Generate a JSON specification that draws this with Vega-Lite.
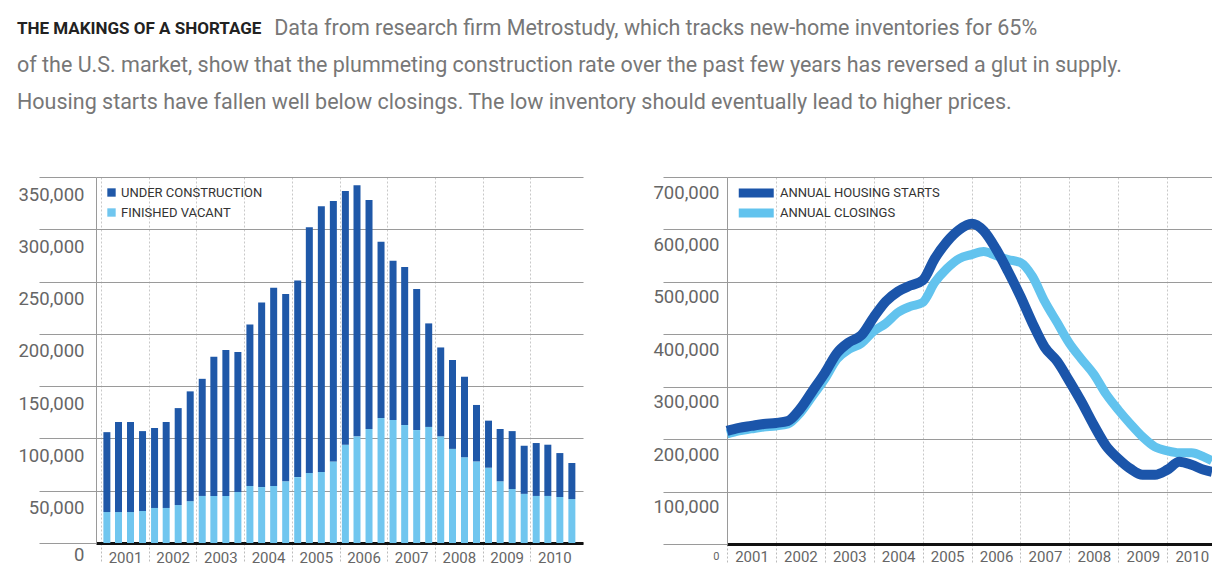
{
  "$schema": "https://vega.github.io/schema/vega-lite/v6.json",
  "background": "white",
  "padding": {"left": 16, "top": 17, "right": 0, "bottom": 0},
  "spacing": 69,
  "resolve": {"scale": {"color": "independent"}, "legend": {"color": "independent"}},
  "title": {
    "text": "THE MAKINGS OF A SHORTAGE",
    "subtitle": [
      "\u200b\u2003\u2003\u2003\u2003\u2003\u2003\u2003\u2003\u2003\u2003\u2003\u00a0\u00a0\u00a0Data from research firm Metrostudy, which tracks new-home inventories for 65%",
      "of the U.S. market, show that the plummeting construction rate over the past few years has reversed a glut in supply.",
      "Housing starts have fallen well below closings. The low inventory should eventually lead to higher prices."
    ],
    "anchor": "start",
    "frame": "bounds",
    "font": "Roboto",
    "fontSize": 17,
    "fontWeight": "bold",
    "color": "#222222",
    "subtitleFont": "Roboto",
    "subtitleFontSize": 21.5,
    "subtitleColor": "#777777",
    "subtitleLineHeight": 37,
    "subtitlePadding": -20,
    "offset": 60,
    "dx": -1
  },
  "datasets": {
    "bars": [
      {"d": "2001-02-15T00:00:00", "s": "FINISHED VACANT", "v": 29600}, {"d": "2001-02-15T00:00:00", "s": "UNDER CONSTRUCTION", "v": 76400},
      {"d": "2001-05-15T00:00:00", "s": "FINISHED VACANT", "v": 29600}, {"d": "2001-05-15T00:00:00", "s": "UNDER CONSTRUCTION", "v": 86100},
      {"d": "2001-08-15T00:00:00", "s": "FINISHED VACANT", "v": 29600}, {"d": "2001-08-15T00:00:00", "s": "UNDER CONSTRUCTION", "v": 86100},
      {"d": "2001-11-15T00:00:00", "s": "FINISHED VACANT", "v": 30600}, {"d": "2001-11-15T00:00:00", "s": "UNDER CONSTRUCTION", "v": 76400},
      {"d": "2002-02-15T00:00:00", "s": "FINISHED VACANT", "v": 33500}, {"d": "2002-02-15T00:00:00", "s": "UNDER CONSTRUCTION", "v": 76500},
      {"d": "2002-05-15T00:00:00", "s": "FINISHED VACANT", "v": 33500}, {"d": "2002-05-15T00:00:00", "s": "UNDER CONSTRUCTION", "v": 82200},
      {"d": "2002-08-15T00:00:00", "s": "FINISHED VACANT", "v": 36300}, {"d": "2002-08-15T00:00:00", "s": "UNDER CONSTRUCTION", "v": 92700},
      {"d": "2002-11-15T00:00:00", "s": "FINISHED VACANT", "v": 40000}, {"d": "2002-11-15T00:00:00", "s": "UNDER CONSTRUCTION", "v": 105000},
      {"d": "2003-02-15T00:00:00", "s": "FINISHED VACANT", "v": 45000}, {"d": "2003-02-15T00:00:00", "s": "UNDER CONSTRUCTION", "v": 112000},
      {"d": "2003-05-15T00:00:00", "s": "FINISHED VACANT", "v": 45000}, {"d": "2003-05-15T00:00:00", "s": "UNDER CONSTRUCTION", "v": 133000},
      {"d": "2003-08-15T00:00:00", "s": "FINISHED VACANT", "v": 45000}, {"d": "2003-08-15T00:00:00", "s": "UNDER CONSTRUCTION", "v": 139500},
      {"d": "2003-11-15T00:00:00", "s": "FINISHED VACANT", "v": 48800}, {"d": "2003-11-15T00:00:00", "s": "UNDER CONSTRUCTION", "v": 133800},
      {"d": "2004-02-15T00:00:00", "s": "FINISHED VACANT", "v": 54500}, {"d": "2004-02-15T00:00:00", "s": "UNDER CONSTRUCTION", "v": 154500},
      {"d": "2004-05-15T00:00:00", "s": "FINISHED VACANT", "v": 53500}, {"d": "2004-05-15T00:00:00", "s": "UNDER CONSTRUCTION", "v": 176500},
      {"d": "2004-08-15T00:00:00", "s": "FINISHED VACANT", "v": 54500}, {"d": "2004-08-15T00:00:00", "s": "UNDER CONSTRUCTION", "v": 189500},
      {"d": "2004-11-15T00:00:00", "s": "FINISHED VACANT", "v": 59000}, {"d": "2004-11-15T00:00:00", "s": "UNDER CONSTRUCTION", "v": 179000},
      {"d": "2005-02-15T00:00:00", "s": "FINISHED VACANT", "v": 63000}, {"d": "2005-02-15T00:00:00", "s": "UNDER CONSTRUCTION", "v": 188000},
      {"d": "2005-05-15T00:00:00", "s": "FINISHED VACANT", "v": 67000}, {"d": "2005-05-15T00:00:00", "s": "UNDER CONSTRUCTION", "v": 235000},
      {"d": "2005-08-15T00:00:00", "s": "FINISHED VACANT", "v": 68000}, {"d": "2005-08-15T00:00:00", "s": "UNDER CONSTRUCTION", "v": 254000},
      {"d": "2005-11-15T00:00:00", "s": "FINISHED VACANT", "v": 78000}, {"d": "2005-11-15T00:00:00", "s": "UNDER CONSTRUCTION", "v": 249000},
      {"d": "2006-02-15T00:00:00", "s": "FINISHED VACANT", "v": 94000}, {"d": "2006-02-15T00:00:00", "s": "UNDER CONSTRUCTION", "v": 242500},
      {"d": "2006-05-15T00:00:00", "s": "FINISHED VACANT", "v": 102000}, {"d": "2006-05-15T00:00:00", "s": "UNDER CONSTRUCTION", "v": 240000},
      {"d": "2006-08-15T00:00:00", "s": "FINISHED VACANT", "v": 109000}, {"d": "2006-08-15T00:00:00", "s": "UNDER CONSTRUCTION", "v": 219000},
      {"d": "2006-11-15T00:00:00", "s": "FINISHED VACANT", "v": 119500}, {"d": "2006-11-15T00:00:00", "s": "UNDER CONSTRUCTION", "v": 168500},
      {"d": "2007-02-15T00:00:00", "s": "FINISHED VACANT", "v": 117600}, {"d": "2007-02-15T00:00:00", "s": "UNDER CONSTRUCTION", "v": 152400},
      {"d": "2007-05-15T00:00:00", "s": "FINISHED VACANT", "v": 112800}, {"d": "2007-05-15T00:00:00", "s": "UNDER CONSTRUCTION", "v": 151200},
      {"d": "2007-08-15T00:00:00", "s": "FINISHED VACANT", "v": 108000}, {"d": "2007-08-15T00:00:00", "s": "UNDER CONSTRUCTION", "v": 135000},
      {"d": "2007-11-15T00:00:00", "s": "FINISHED VACANT", "v": 111000}, {"d": "2007-11-15T00:00:00", "s": "UNDER CONSTRUCTION", "v": 99000},
      {"d": "2008-02-15T00:00:00", "s": "FINISHED VACANT", "v": 102000}, {"d": "2008-02-15T00:00:00", "s": "UNDER CONSTRUCTION", "v": 85000},
      {"d": "2008-05-15T00:00:00", "s": "FINISHED VACANT", "v": 90000}, {"d": "2008-05-15T00:00:00", "s": "UNDER CONSTRUCTION", "v": 85000},
      {"d": "2008-08-15T00:00:00", "s": "FINISHED VACANT", "v": 82000}, {"d": "2008-08-15T00:00:00", "s": "UNDER CONSTRUCTION", "v": 77000},
      {"d": "2008-11-15T00:00:00", "s": "FINISHED VACANT", "v": 78000}, {"d": "2008-11-15T00:00:00", "s": "UNDER CONSTRUCTION", "v": 54000},
      {"d": "2009-02-15T00:00:00", "s": "FINISHED VACANT", "v": 72000}, {"d": "2009-02-15T00:00:00", "s": "UNDER CONSTRUCTION", "v": 45000},
      {"d": "2009-05-15T00:00:00", "s": "FINISHED VACANT", "v": 59000}, {"d": "2009-05-15T00:00:00", "s": "UNDER CONSTRUCTION", "v": 50000},
      {"d": "2009-08-15T00:00:00", "s": "FINISHED VACANT", "v": 51600}, {"d": "2009-08-15T00:00:00", "s": "UNDER CONSTRUCTION", "v": 55400},
      {"d": "2009-11-15T00:00:00", "s": "FINISHED VACANT", "v": 47000}, {"d": "2009-11-15T00:00:00", "s": "UNDER CONSTRUCTION", "v": 46000},
      {"d": "2010-02-15T00:00:00", "s": "FINISHED VACANT", "v": 45000}, {"d": "2010-02-15T00:00:00", "s": "UNDER CONSTRUCTION", "v": 50600},
      {"d": "2010-05-15T00:00:00", "s": "FINISHED VACANT", "v": 45000}, {"d": "2010-05-15T00:00:00", "s": "UNDER CONSTRUCTION", "v": 49000},
      {"d": "2010-08-15T00:00:00", "s": "FINISHED VACANT", "v": 44000}, {"d": "2010-08-15T00:00:00", "s": "UNDER CONSTRUCTION", "v": 42000},
      {"d": "2010-11-15T00:00:00", "s": "FINISHED VACANT", "v": 42000}, {"d": "2010-11-15T00:00:00", "s": "UNDER CONSTRUCTION", "v": 34500}
    ],
    "lines": [
      {"d": "2001-01-01T00:00:00", "s": "ANNUAL HOUSING STARTS", "v": 215700}, {"d": "2001-01-01T00:00:00", "s": "ANNUAL CLOSINGS", "v": 210000},
      {"d": "2001-04-01T00:00:00", "s": "ANNUAL HOUSING STARTS", "v": 221400}, {"d": "2001-04-01T00:00:00", "s": "ANNUAL CLOSINGS", "v": 215700},
      {"d": "2001-07-01T00:00:00", "s": "ANNUAL HOUSING STARTS", "v": 225200}, {"d": "2001-07-01T00:00:00", "s": "ANNUAL CLOSINGS", "v": 219500},
      {"d": "2001-10-01T00:00:00", "s": "ANNUAL HOUSING STARTS", "v": 229000}, {"d": "2001-10-01T00:00:00", "s": "ANNUAL CLOSINGS", "v": 223300},
      {"d": "2002-01-01T00:00:00", "s": "ANNUAL HOUSING STARTS", "v": 230900}, {"d": "2002-01-01T00:00:00", "s": "ANNUAL CLOSINGS", "v": 225200},
      {"d": "2002-04-01T00:00:00", "s": "ANNUAL HOUSING STARTS", "v": 234700}, {"d": "2002-04-01T00:00:00", "s": "ANNUAL CLOSINGS", "v": 229000},
      {"d": "2002-07-01T00:00:00", "s": "ANNUAL HOUSING STARTS", "v": 257500}, {"d": "2002-07-01T00:00:00", "s": "ANNUAL CLOSINGS", "v": 249900},
      {"d": "2002-10-01T00:00:00", "s": "ANNUAL HOUSING STARTS", "v": 291700}, {"d": "2002-10-01T00:00:00", "s": "ANNUAL CLOSINGS", "v": 282200},
      {"d": "2003-01-01T00:00:00", "s": "ANNUAL HOUSING STARTS", "v": 325900}, {"d": "2003-01-01T00:00:00", "s": "ANNUAL CLOSINGS", "v": 314500},
      {"d": "2003-04-01T00:00:00", "s": "ANNUAL HOUSING STARTS", "v": 363900}, {"d": "2003-04-01T00:00:00", "s": "ANNUAL CLOSINGS", "v": 352500},
      {"d": "2003-07-01T00:00:00", "s": "ANNUAL HOUSING STARTS", "v": 384800}, {"d": "2003-07-01T00:00:00", "s": "ANNUAL CLOSINGS", "v": 371500},
      {"d": "2003-10-01T00:00:00", "s": "ANNUAL HOUSING STARTS", "v": 398000}, {"d": "2003-10-01T00:00:00", "s": "ANNUAL CLOSINGS", "v": 382900},
      {"d": "2004-01-01T00:00:00", "s": "ANNUAL HOUSING STARTS", "v": 432300}, {"d": "2004-01-01T00:00:00", "s": "ANNUAL CLOSINGS", "v": 405700},
      {"d": "2004-04-01T00:00:00", "s": "ANNUAL HOUSING STARTS", "v": 462700}, {"d": "2004-04-01T00:00:00", "s": "ANNUAL CLOSINGS", "v": 420900},
      {"d": "2004-07-01T00:00:00", "s": "ANNUAL HOUSING STARTS", "v": 481700}, {"d": "2004-07-01T00:00:00", "s": "ANNUAL CLOSINGS", "v": 441800},
      {"d": "2004-10-01T00:00:00", "s": "ANNUAL HOUSING STARTS", "v": 493000}, {"d": "2004-10-01T00:00:00", "s": "ANNUAL CLOSINGS", "v": 453200},
      {"d": "2005-01-01T00:00:00", "s": "ANNUAL HOUSING STARTS", "v": 502600}, {"d": "2005-01-01T00:00:00", "s": "ANNUAL CLOSINGS", "v": 460800},
      {"d": "2005-04-01T00:00:00", "s": "ANNUAL HOUSING STARTS", "v": 544400}, {"d": "2005-04-01T00:00:00", "s": "ANNUAL CLOSINGS", "v": 498800},
      {"d": "2005-07-01T00:00:00", "s": "ANNUAL HOUSING STARTS", "v": 576700}, {"d": "2005-07-01T00:00:00", "s": "ANNUAL CLOSINGS", "v": 525400},
      {"d": "2005-10-01T00:00:00", "s": "ANNUAL HOUSING STARTS", "v": 599500}, {"d": "2005-10-01T00:00:00", "s": "ANNUAL CLOSINGS", "v": 544400},
      {"d": "2006-01-01T00:00:00", "s": "ANNUAL HOUSING STARTS", "v": 610900}, {"d": "2006-01-01T00:00:00", "s": "ANNUAL CLOSINGS", "v": 552000},
      {"d": "2006-04-01T00:00:00", "s": "ANNUAL HOUSING STARTS", "v": 597600}, {"d": "2006-04-01T00:00:00", "s": "ANNUAL CLOSINGS", "v": 557700},
      {"d": "2006-07-01T00:00:00", "s": "ANNUAL HOUSING STARTS", "v": 563400}, {"d": "2006-07-01T00:00:00", "s": "ANNUAL CLOSINGS", "v": 550100},
      {"d": "2006-10-01T00:00:00", "s": "ANNUAL HOUSING STARTS", "v": 519700}, {"d": "2006-10-01T00:00:00", "s": "ANNUAL CLOSINGS", "v": 542500},
      {"d": "2007-01-01T00:00:00", "s": "ANNUAL HOUSING STARTS", "v": 472200}, {"d": "2007-01-01T00:00:00", "s": "ANNUAL CLOSINGS", "v": 536800},
      {"d": "2007-04-01T00:00:00", "s": "ANNUAL HOUSING STARTS", "v": 420900}, {"d": "2007-04-01T00:00:00", "s": "ANNUAL CLOSINGS", "v": 510200},
      {"d": "2007-07-01T00:00:00", "s": "ANNUAL HOUSING STARTS", "v": 375300}, {"d": "2007-07-01T00:00:00", "s": "ANNUAL CLOSINGS", "v": 462700},
      {"d": "2007-10-01T00:00:00", "s": "ANNUAL HOUSING STARTS", "v": 348700}, {"d": "2007-10-01T00:00:00", "s": "ANNUAL CLOSINGS", "v": 422800},
      {"d": "2008-01-01T00:00:00", "s": "ANNUAL HOUSING STARTS", "v": 310700}, {"d": "2008-01-01T00:00:00", "s": "ANNUAL CLOSINGS", "v": 382900},
      {"d": "2008-04-01T00:00:00", "s": "ANNUAL HOUSING STARTS", "v": 270800}, {"d": "2008-04-01T00:00:00", "s": "ANNUAL CLOSINGS", "v": 352500},
      {"d": "2008-07-01T00:00:00", "s": "ANNUAL HOUSING STARTS", "v": 227000}, {"d": "2008-07-01T00:00:00", "s": "ANNUAL CLOSINGS", "v": 324000},
      {"d": "2008-10-01T00:00:00", "s": "ANNUAL HOUSING STARTS", "v": 187200}, {"d": "2008-10-01T00:00:00", "s": "ANNUAL CLOSINGS", "v": 286000},
      {"d": "2009-01-01T00:00:00", "s": "ANNUAL HOUSING STARTS", "v": 162500}, {"d": "2009-01-01T00:00:00", "s": "ANNUAL CLOSINGS", "v": 255600},
      {"d": "2009-04-01T00:00:00", "s": "ANNUAL HOUSING STARTS", "v": 143500}, {"d": "2009-04-01T00:00:00", "s": "ANNUAL CLOSINGS", "v": 229000},
      {"d": "2009-07-01T00:00:00", "s": "ANNUAL HOUSING STARTS", "v": 132000}, {"d": "2009-07-01T00:00:00", "s": "ANNUAL CLOSINGS", "v": 204300},
      {"d": "2009-10-01T00:00:00", "s": "ANNUAL HOUSING STARTS", "v": 132000}, {"d": "2009-10-01T00:00:00", "s": "ANNUAL CLOSINGS", "v": 185300},
      {"d": "2010-01-01T00:00:00", "s": "ANNUAL HOUSING STARTS", "v": 141600}, {"d": "2010-01-01T00:00:00", "s": "ANNUAL CLOSINGS", "v": 177700},
      {"d": "2010-04-01T00:00:00", "s": "ANNUAL HOUSING STARTS", "v": 156800}, {"d": "2010-04-01T00:00:00", "s": "ANNUAL CLOSINGS", "v": 173900},
      {"d": "2010-07-01T00:00:00", "s": "ANNUAL HOUSING STARTS", "v": 151100}, {"d": "2010-07-01T00:00:00", "s": "ANNUAL CLOSINGS", "v": 173900},
      {"d": "2010-10-01T00:00:00", "s": "ANNUAL HOUSING STARTS", "v": 141600}, {"d": "2010-10-01T00:00:00", "s": "ANNUAL CLOSINGS", "v": 166300},
      {"d": "2010-12-01T00:00:00", "s": "ANNUAL HOUSING STARTS", "v": 137800}, {"d": "2010-12-01T00:00:00", "s": "ANNUAL CLOSINGS", "v": 158700}
    ]
  },
  "hconcat": [
    {
      "width": 487,
      "height": 366,
      "data": {"name": "bars"},
      "mark": {"type": "bar", "size": 7},
      "encoding": {
        "x": {
          "field": "d", "type": "temporal",
          "scale": {"domain": [{"year": 2001, "month": 1, "date": 1}, {"year": 2011, "month": 1, "date": 1}]},
          "axis": {
            "title": null,
            "values": [{"year": 2001}, {"year": 2002}, {"year": 2003}, {"year": 2004}, {"year": 2005}, {"year": 2006}, {"year": 2007}, {"year": 2008}, {"year": 2009}, {"year": 2010}],
            "format": "%Y",
            "grid": true, "gridColor": "#c8c8c8", "gridDash": [2, 2], "gridWidth": 1,
            "tickSize": 18, "tickColor": "#bbbbbb", "tickDash": [2, 2],
            "labelOffset": 24, "labelPadding": -11, "labelFontSize": 15, "labelColor": "#666666",
            "labelFlush": false, "labelOverlap": false,
            "domainColor": "#111111", "domainWidth": 3
          }
        },
        "y": {
          "field": "v", "type": "quantitative", "stack": "zero",
          "scale": {"domain": [0, 350000], "nice": false},
          "axis": {
            "title": null,
            "values": [0, 50000, 100000, 150000, 200000, 250000, 300000, 350000],
            "format": ",d",
            "grid": true, "gridColor": "#9a9a9a", "gridWidth": 1.2,
            "tickSize": 57, "tickColor": "#9a9a9a", "tickWidth": 1.2,
            "labelPadding": -45, "labelBaseline": "top",
            "labelOffset": {"condition": {"test": "datum.value === 0", "value": 2}, "value": 8},
            "labelFontSize": 18.5, "labelColor": "#666666",
            "labelFlush": false, "labelOverlap": false,
            "domainColor": "#9a9a9a", "domainWidth": 1
          }
        },
        "color": {
          "field": "s", "type": "nominal",
          "scale": {"domain": ["UNDER CONSTRUCTION", "FINISHED VACANT"], "range": ["#1f58a8", "#70c6ef"]},
          "legend": {
            "title": null, "orient": "top-left", "offset": 9, "padding": 0,
            "symbolType": "square", "symbolSize": 70, "symbolStrokeWidth": 0,
            "labelFontSize": 13, "labelColor": "#333333", "labelOffset": 3, "rowPadding": 6
          }
        },
        "order": {"field": "s", "sort": "ascending"}
      }
    },
    {
      "width": 485,
      "height": 367,
      "data": {"name": "lines"},
      "encoding": {
        "x": {
          "field": "d", "type": "temporal",
          "scale": {"domain": [{"year": 2001, "month": 1, "date": 1}, {"year": 2010, "month": 12, "date": 1}]},
          "axis": {
            "title": null,
            "values": [{"year": 2001}, {"year": 2002}, {"year": 2003}, {"year": 2004}, {"year": 2005}, {"year": 2006}, {"year": 2007}, {"year": 2008}, {"year": 2009}, {"year": 2010}],
            "format": "%Y",
            "grid": true, "gridColor": "#c8c8c8", "gridDash": [2, 2], "gridWidth": 1,
            "tickSize": 18, "tickColor": "#bbbbbb", "tickDash": [2, 2],
            "labelOffset": 24.5, "labelPadding": -13, "labelFontSize": 15, "labelColor": "#666666",
            "labelFlush": false, "labelOverlap": false,
            "domainColor": "#111111", "domainWidth": 3
          }
        },
        "y": {
          "field": "v", "type": "quantitative",
          "scale": {"domain": [0, 700000], "nice": false},
          "axis": {
            "title": null,
            "values": [0, 100000, 200000, 300000, 400000, 500000, 600000, 700000],
            "format": ",d",
            "grid": true, "gridColor": "#9a9a9a", "gridWidth": 1.2,
            "tickSize": 64, "tickColor": "#9a9a9a", "tickWidth": 1.2,
            "labelPadding": -56, "labelBaseline": "top", "labelOffset": 6,
            "labelFontSize": {"condition": {"test": "datum.value === 0", "value": 11}, "value": 18.5},
            "labelColor": "#666666",
            "labelFlush": false, "labelOverlap": false,
            "domainColor": "#9a9a9a", "domainWidth": 1
          }
        },
        "color": {
          "field": "s", "type": "nominal",
          "scale": {"domain": ["ANNUAL HOUSING STARTS", "ANNUAL CLOSINGS"], "range": ["#1b55aa", "#62c3ee"]},
          "legend": {
            "title": null, "orient": "none", "legendX": 7, "legendY": 6, "padding": 0,
            "symbolType": "M-1,0H3", "symbolSize": 306, "symbolStrokeWidth": 9,
            "clipHeight": 20,
            "labelFontSize": 13, "labelColor": "#333333", "labelOffset": 19, "rowPadding": 0
          }
        }
      },
      "layer": [
        {
          "transform": [{"filter": "datum.s === 'ANNUAL CLOSINGS'"}],
          "mark": {"type": "line", "strokeWidth": 9, "interpolate": "monotone", "strokeJoin": "round"}
        },
        {
          "transform": [{"filter": "datum.s === 'ANNUAL HOUSING STARTS'"}],
          "mark": {"type": "line", "strokeWidth": 10, "interpolate": "monotone", "strokeJoin": "round"}
        }
      ]
    }
  ],
  "config": {
    "view": {"stroke": null},
    "font": "Roboto",
    "axis": {"labelFont": "Roboto"},
    "legend": {"labelFont": "Roboto"}
  }
}
